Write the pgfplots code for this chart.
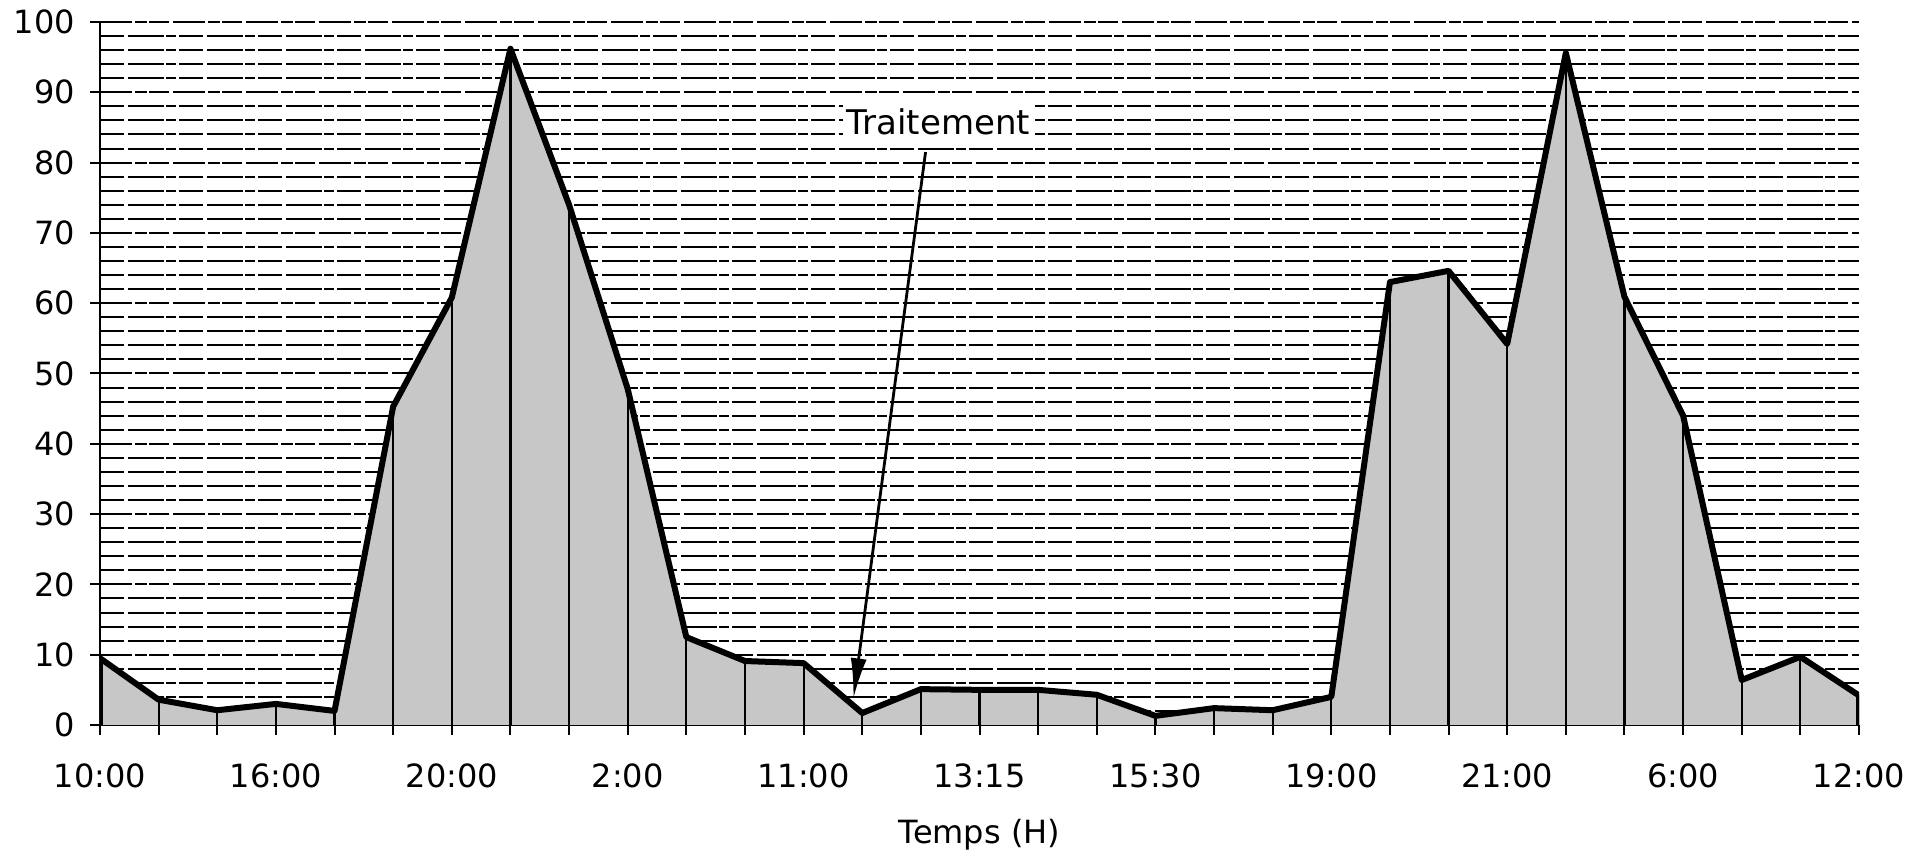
\documentclass[border=0pt]{standalone}
\usepackage{pgfplots}
\pgfplotsset{compat=1.18}
\usepackage{pgfplotstable}
\usepackage{fontspec}
\setmainfont{DejaVu Sans}
\usetikzlibrary{arrows.meta}

\pgfplotstableread{
i v
0 0
0 9.5
1 3.6
2 2.1
3 3.0
4 2.0
5 45.3
6 60.8
7 96.2
8 74.0
9 47.8
10 12.5
11 9.1
12 8.8
13 1.7
14 5.1
15 5.0
16 5.0
17 4.3
18 1.3
19 2.4
20 2.1
21 4.0
22 63.0
23 64.6
24 54.2
25 95.6
26 60.9
27 44.0
28 6.4
29 9.7
30 4.2
30 0
}\datatable

\begin{document}
\begin{tikzpicture}
\begin{axis}[
  scale only axis,
  width=879.5pt, height=351.5pt,
  xmin=0, xmax=30, ymin=0, ymax=100,
  axis lines*=left,
  axis line style={line width=1.2pt},
  xtick={0,...,30},
  xticklabels={10:00,,,16:00,,,20:00,,,2:00,,,11:00,,,13:15,,,15:30,,,19:00,,,21:00,,,6:00,,,12:00},
  ytick={0,10,...,100},
  minor y tick num=4,
  minor tick length=0pt,
  tick align=outside,
  major tick length=5pt,
  every tick/.style={black, line width=1pt},
  ymajorgrids, yminorgrids,
  major grid style={black, line width=1pt, dash pattern=on 16pt off 1.5pt on 6pt off 1pt on 10pt off 2pt},
  minor grid style={black, line width=1pt, dash pattern=on 12pt off 2pt on 18pt off 1pt on 5pt off 1.5pt},
  /pgf/number format/assume math mode=true,
  tick label style={font=\fontsize{16}{19}\selectfont},
  xticklabel style={yshift=-11pt},
  yticklabel style={xshift=-4pt},
  xlabel={Temps (H)},
  xlabel style={font=\fontsize{16}{19}\selectfont, yshift=-8.5pt},
]
\addplot[draw=none, fill=black!22] table[x=i, y=v] {\datatable} \closedcycle;
\addplot[ycomb, black, line width=1.1pt, mark=none] table[x=i, y=v] {\datatable};
\addplot[black, line width=3pt, line join=round, mark=none] table[x=i, y=v] {\datatable};
\draw[-{Latex[length=20pt,width=8pt]}, line width=1.4pt] (axis cs:14.08,81.5) -- (axis cs:12.85,3.8);
\node[fill=white, inner sep=2pt, font=\fontsize{17}{20}\selectfont] at (axis cs:14.3,85.8) {Traitement};
\end{axis}
\pgfresetboundingbox
\path (-50pt,-65pt) rectangle (908pt,362.5pt);
\end{tikzpicture}
\end{document}
